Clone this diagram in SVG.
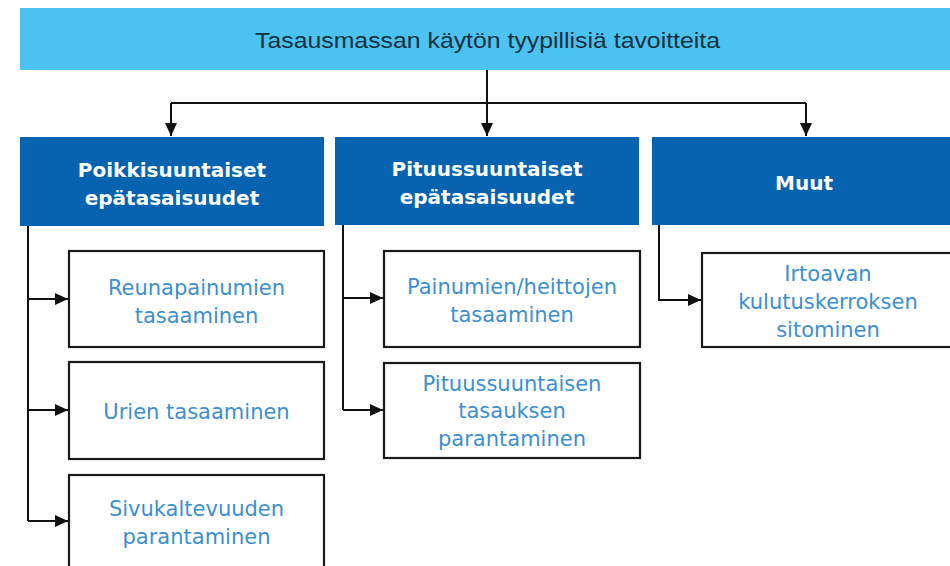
<svg xmlns="http://www.w3.org/2000/svg" width="950" height="566" viewBox="0 0 950 566">
<style>
.title{font-family:"Liberation Sans",Arial,sans-serif;font-size:22px;fill:#15303e;text-anchor:middle}
.hd{fill:#0563b0}
.hdt{font-family:"DejaVu Sans",sans-serif;font-weight:bold;font-size:20px;fill:#ffffff;text-anchor:middle}
.box{fill:#ffffff;stroke:#1a1a1a;stroke-width:2.2}
.bt{font-family:"DejaVu Sans",sans-serif;font-size:21px;fill:#3d8fd0;text-anchor:middle}
.con{fill:none;stroke:#111;stroke-width:2}
</style>
<defs>
<marker id="arr" markerUnits="userSpaceOnUse" markerWidth="14" markerHeight="14" viewBox="0 0 14 14" refX="13" refY="7" orient="auto">
<path d="M0,1 L13,7 L0,13 Z" fill="#111"/>
</marker>
</defs>
<rect width="950" height="566" fill="#ffffff"/>
<g id="top">
<rect x="20" y="8" width="930" height="62" fill="#4cc2f0"/>
<text class="title" x="487.5" y="48" textLength="465" lengthAdjust="spacingAndGlyphs">Tasausmassan käytön tyypillisiä tavoitteita</text>
</g>
<g id="connectors">
<path class="con" d="M487,70 V103"/>
<path class="con" d="M171,103 H806"/>
<path class="con" d="M171,103 V136" marker-end="url(#arr)"/>
<path class="con" d="M487,103 V136" marker-end="url(#arr)"/>
<path class="con" d="M806,103 V136" marker-end="url(#arr)"/>
<path class="con" d="M28,226 V521"/>
<path class="con" d="M28,299 H68" marker-end="url(#arr)"/>
<path class="con" d="M28,410 H68" marker-end="url(#arr)"/>
<path class="con" d="M28,521 H68" marker-end="url(#arr)"/>
<path class="con" d="M343,225 V410"/>
<path class="con" d="M343,298 H383" marker-end="url(#arr)"/>
<path class="con" d="M343,410 H383" marker-end="url(#arr)"/>
<path class="con" d="M659,225 V300 H701" marker-end="url(#arr)"/>
</g>
<g id="h1">
<rect class="hd" x="20" y="137" width="304" height="89"/>
<text class="hdt" x="172" y="177">Poikkisuuntaiset</text>
<text class="hdt" x="172" y="205">epätasaisuudet</text>
</g>
<g id="h2">
<rect class="hd" x="335" y="137" width="304" height="88"/>
<text class="hdt" x="487" y="176">Pituussuuntaiset</text>
<text class="hdt" x="487" y="204">epätasaisuudet</text>
</g>
<g id="h3">
<rect class="hd" x="652" y="137" width="298" height="88"/>
<text class="hdt" x="804" y="190">Muut</text>
</g>
<g id="c1">
<rect class="box" x="69" y="251" width="255" height="96"/>
<text class="bt" x="196.5" y="295">Reunapainumien</text>
<text class="bt" x="196.5" y="323">tasaaminen</text>
</g>
<g id="c2">
<rect class="box" x="69" y="362" width="255" height="97"/>
<text class="bt" x="196.5" y="419">Urien tasaaminen</text>
</g>
<g id="c3">
<rect class="box" x="69" y="475" width="255" height="100"/>
<text class="bt" x="196.5" y="516">Sivukaltevuuden</text>
<text class="bt" x="196.5" y="544">parantaminen</text>
</g>
<g id="c4">
<rect class="box" x="384" y="251" width="256" height="96"/>
<text class="bt" x="512" y="294">Painumien/heittojen</text>
<text class="bt" x="512" y="322">tasaaminen</text>
</g>
<g id="c5">
<rect class="box" x="384" y="363" width="256" height="95"/>
<text class="bt" x="512" y="391">Pituussuuntaisen</text>
<text class="bt" x="512" y="418">tasauksen</text>
<text class="bt" x="512" y="446">parantaminen</text>
</g>
<g id="c6">
<rect class="box" x="702" y="253" width="260" height="94"/>
<text class="bt" x="828" y="281">Irtoavan</text>
<text class="bt" x="828" y="309">kulutuskerroksen</text>
<text class="bt" x="828" y="337">sitominen</text>
</g>
</svg>
